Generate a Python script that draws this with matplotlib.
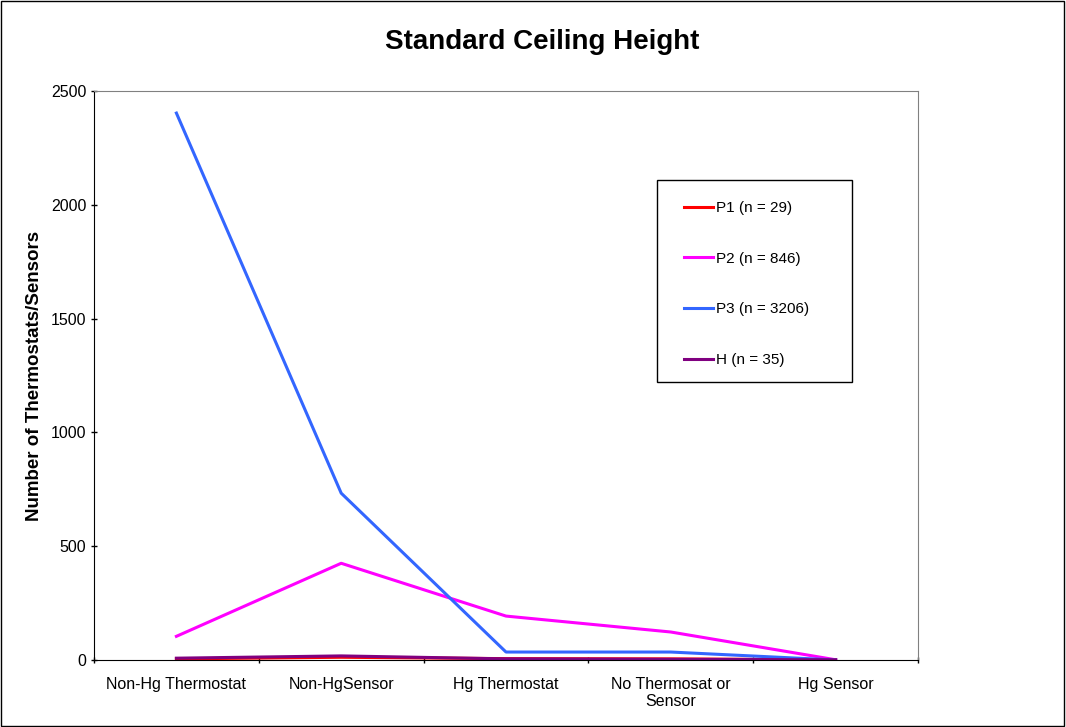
import numpy as np
import matplotlib
matplotlib.use("Agg")
import matplotlib.pyplot as plt
from matplotlib.patches import Rectangle

plt.rcParams['font.family'] = ['Liberation Sans', 'DejaVu Sans']

categories = ['Non-Hg Thermostat', 'Non-HgSensor', 'Hg Thermostat',
              'No Thermosat or\nSensor', 'Hg Sensor']
p1 = [5, 12, 6, 5, 1]
p2 = [104, 425, 193, 123, 1]
p3 = [2403, 733, 35, 35, 0]
h = [8, 18, 5, 3, 1]

series = [
    ('P1 (n = 29)', p1, '#ff0000'),
    ('P2 (n = 846)', p2, '#ff00ff'),
    ('P3 (n = 3206)', p3, '#3366ff'),
    ('H (n = 35)', h, '#800080'),
]

W, H = 1066, 727
fig = plt.figure(figsize=(W / 100, H / 100), dpi=100)
ax = fig.add_axes([94/W, 1 - 660/H, 824/W, 569/H])

x = np.arange(len(categories))
for label, vals, col in series:
    ax.plot(x, vals, color=col, lw=2.2, label=label)

ax.set_xlim(-0.5, len(categories) - 0.5)
ax.set_ylim(0, 2500)
ax.set_yticks(np.arange(0, 2501, 500))
ax.set_xticks(x)
ax.set_xticklabels(categories, fontsize=11.5)
ax.set_xticks(np.arange(-0.5, len(categories), 1), minor=True)
ax.tick_params(axis='x', which='major', length=0, pad=12)
ax.tick_params(axis='x', which='minor', length=5, direction='inout', width=1)
ax.tick_params(axis='y', length=5, direction='inout', labelsize=11.5, width=1, pad=3)
ax.spines['top'].set_color('#808080')
ax.spines['right'].set_color('#808080')
ax.spines['left'].set_color('black')
ax.spines['bottom'].set_color('black')
ax.set_ylabel('Number of Thermostats/Sensors', fontsize=13.5, fontweight='bold', labelpad=6)

# legend box drawn separately so it can be wider than its entries
bx0, by0, bx1, by1 = 657, 180, 852, 382
ax.add_patch(Rectangle(((bx0 - 94) / 824, (660 - by1) / 569),
                       (bx1 - bx0) / 824, (by1 - by0) / 569,
                       transform=ax.transAxes, fill=False, edgecolor='black',
                       lw=1, zorder=5, clip_on=False))
leg = ax.legend(loc='upper left', bbox_to_anchor=((684 - 94) / 824, (660 - 201) / 569),
                fontsize=11, frameon=False, handlelength=1.9, handletextpad=0.2,
                labelspacing=2.4, borderpad=0, borderaxespad=0)

fig.text(0.509, 1 - 42/H, 'Standard Ceiling Height', ha='center', va='center',
         fontsize=20, fontweight='bold')

fig.patches.append(Rectangle((0.001, 0.001), 0.997, 0.997, transform=fig.transFigure,
                             fill=False, edgecolor='black', lw=1))

fig.savefig('out.png', dpi=100)
